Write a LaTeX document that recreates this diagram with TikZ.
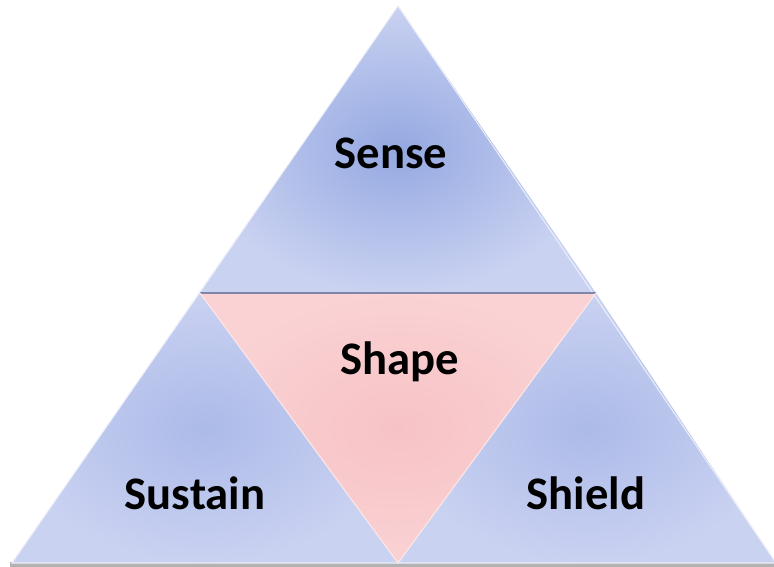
\documentclass[tikz,border=0pt]{standalone}
\usepackage{fontspec}
\setmainfont{Carlito}
\usetikzlibrary{calc}
\definecolor{SkyBlue}{RGB}{148, 168, 225}
\definecolor{MidBlue}{RGB}{172, 186, 233}
\definecolor{PaleBlue}{RGB}{202, 210, 241}
\definecolor{SoftPink}{RGB}{247, 194, 197}
\definecolor{PalePink}{RGB}{250, 210, 212}
\definecolor{EdgeGray}{RGB}{125, 135, 170}

\begin{document}
\begin{tikzpicture}[
  x=0.75pt, y=-0.75pt,
  part/.style={shading=radial, inner color=SkyBlue, outer color=PaleBlue},
  mid/.style={shading=radial, inner color=SoftPink, outer color=PalePink},
  word/.style={font=\fontsize{35}{40}\selectfont\bfseries, text=black}
]
\useasboundingbox (0,0) rectangle (774,567);

% corners of the big triangle
\coordinate (top) at (398,6);
\coordinate (bl)  at (12,563);
\coordinate (br)  at (776,563);
\coordinate (ml)  at (200,293);
\coordinate (mr)  at (596,293);
\coordinate (bm)  at (398,563);

% bottom shadow
\fill[black!30] (10,562) rectangle (774,567);

% the four pieces
\shade[part] (top) -- (ml) -- (mr) -- cycle;
\shade[part, inner color=MidBlue] (ml) -- (bl) -- (bm) -- cycle;
\shade[part, inner color=MidBlue] (mr) -- (bm) -- (br) -- cycle;
\shade[mid] (ml) -- (mr) -- (bm) -- cycle;

% rim and seams
\draw[white!80!SkyBlue, line width=0.8pt] (top) -- (bl) -- (br) -- cycle;
\draw[EdgeGray, line width=1.6pt] (ml) -- (mr);
\draw[white!60!SoftPink, line width=0.8pt] (ml) -- (bm) -- (mr);

\node[word] (sense)   at (391,153) {Sense};
\node[word] (shape)   at (400,362) {Shape};
\node[word] (sustain) at (195,493) {Sustain};
\node[word] (shield)  at (586,493) {Shield};
\end{tikzpicture}
\end{document}
